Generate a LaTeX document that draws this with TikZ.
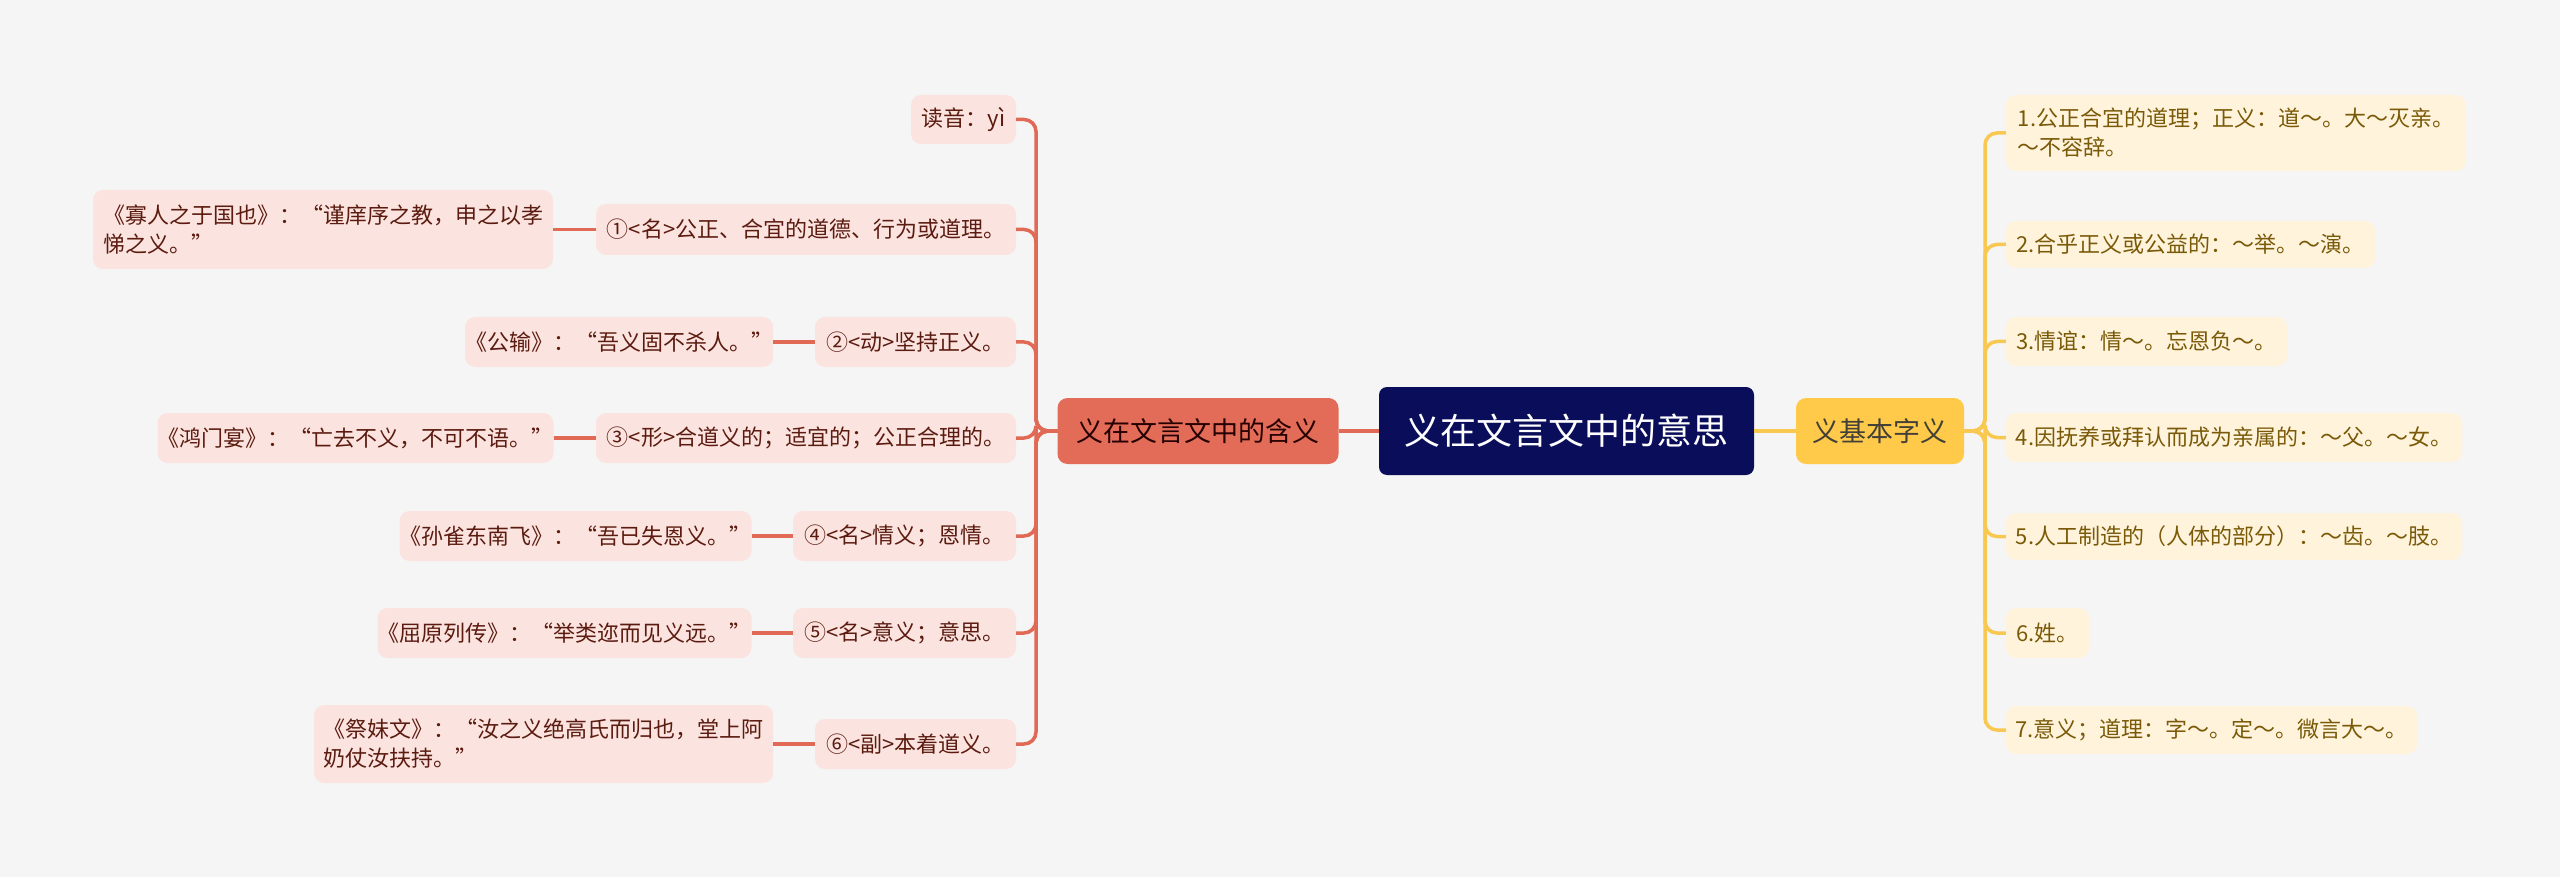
\documentclass[tikz,border=0pt]{standalone}
\usepackage{fontspec}
\newfontfamily\cjk{Noto Sans CJK SC}
\definecolor{bgc}{HTML}{F5F5F5}
\definecolor{navy}{HTML}{0A0E5A}
\definecolor{redm}{HTML}{E26C57}
\definecolor{yelm}{HTML}{FFC94A}
\definecolor{lfill}{HTML}{FBE4DF}
\definecolor{ltext}{HTML}{5C1B10}
\definecolor{rfill}{HTML}{FFF3DB}
\definecolor{rtext}{HTML}{7A5A08}
\definecolor{lline}{HTML}{E06A55}
\definecolor{rline}{HTML}{F8C850}
\tikzset{
  box/.style={inner sep=0pt, rounded corners=10pt, font=\cjk},
  lc/.style={box, fill=lfill, text=ltext, align=left, font=\cjk\fontsize{22}{29}\selectfont},
  rc/.style={box, fill=rfill, text=rtext, align=left, font=\cjk\fontsize{22}{29}\selectfont},
  lcon/.style={draw=lline, line width=3.5pt, rounded corners=12pt},
  rcon/.style={draw=rline, line width=3.5pt, rounded corners=12pt},
}
\begin{document}
\begin{tikzpicture}[x=1pt,y=-1pt]
\fill[bgc] (0,0) rectangle (2560,877);
\useasboundingbox (0,0) rectangle (2560,877);
% central
\node[box, fill=navy, text=white, rounded corners=8pt, minimum width=375pt, minimum height=88pt, font=\cjk\fontsize{36}{40}\selectfont] (root) at (1566.5,431) {义在文言文中的意思};
\node[box, fill=redm, text=black!85!red, minimum width=281pt, minimum height=66pt, font=\cjk\fontsize{27}{32}\selectfont] (red) at (1198,431) {义在文言文中的含义};
\node[box, fill=yelm, text=black!85!yellow, minimum width=168pt, minimum height=66pt, font=\cjk\fontsize{27}{32}\selectfont] (yel) at (1880,431) {义基本字义};
% left children
\node[lc, minimum width=105pt, minimum height=49pt] (l0) at (963.5,119.5) {读音：yì};
\node[lc, minimum width=420pt, minimum height=51pt] (l1) at (806,229.5) {①<名>公正、合宜的道德、行为或道理。};
\node[lc, minimum width=460pt, minimum height=79pt] (e1) at (323,229.5) {《寡人之于国也》：“谨庠序之教，申之以孝\\悌之义。”};
\node[lc, minimum width=201pt, minimum height=50pt] (l2) at (915.5,342) {②<动>坚持正义。};
\node[lc, minimum width=306pt, minimum height=50pt] (e2) at (619,342) {《公输》：“吾义固不杀人。”};
\node[lc, minimum width=420pt, minimum height=50pt] (l3) at (806,438) {③<形>合道义的；适宜的；公正合理的。};
\node[lc, minimum width=395pt, minimum height=50pt] (e3) at (355.5,438) {《鸿门宴》：“亡去不义，不可不语。”};
\node[lc, minimum width=223pt, minimum height=50pt] (l4) at (904.5,536) {④<名>情义；恩情。};
\node[lc, minimum width=351pt, minimum height=50pt] (e4) at (575.5,536) {《孙雀东南飞》：“吾已失恩义。”};
\node[lc, minimum width=223pt, minimum height=50pt] (l5) at (904.5,633) {⑤<名>意义；意思。};
\node[lc, minimum width=373pt, minimum height=50pt] (e5) at (564.5,633) {《屈原列传》：“举类迩而见义远。”};
\node[lc, minimum width=201pt, minimum height=50pt] (l6) at (915.5,744) {⑥<副>本着道义。};
\node[lc, minimum width=459pt, minimum height=78pt] (e6) at (543.5,744) {《祭妹文》：“汝之义绝高氏而归也，堂上阿\\奶仗汝扶持。”};
% right children
\node[rc, minimum width=460pt, minimum height=76pt] (r1) at (2236,133) {1.公正合宜的道理；正义：道～。大～灭亲。\\～不容辞。};
\node[rc, minimum width=369pt, minimum height=47pt] (r2) at (2190.5,244.5) {2.合乎正义或公益的：～举。～演。};
\node[rc, minimum width=281pt, minimum height=49pt] (r3) at (2146.5,341.5) {3.情谊：情～。忘恩负～。};
\node[rc, minimum width=456pt, minimum height=49pt] (r4) at (2234,437.5) {4.因抚养或拜认而成为亲属的：～父。～女。};
\node[rc, minimum width=456pt, minimum height=47pt] (r5) at (2234,536.5) {5.人工制造的（人体的部分）：～齿。～肢。};
\node[rc, minimum width=83pt, minimum height=50pt] (r6) at (2047.5,633) {6.姓。};
\node[rc, minimum width=411pt, minimum height=48pt] (r7) at (2211.5,730) {7.意义；道理：字～。定～。微言大～。};
% connectors
\draw[lline, line width=3.5pt] (root.west) -- (red.east);
\draw[rline, line width=3.5pt] (root.east) -- (yel.west);
\coordinate (lx) at (1036,431);
\coordinate (rx) at (1985,431);
\foreach \n in {l0,l1,l2,l3,l4,l5,l6}{
  \draw[lcon] (red.west) -- (lx) -- (lx |- \n.east) -- (\n.east);
}
\foreach \n in {r1,r2,r3,r4,r5,r6,r7}{
  \draw[rcon] (yel.east) -- (rx) -- (rx |- \n.west) -- (\n.west);
}
\draw[lline, line width=3.5pt] (l1.west) -- (e1.east);
\draw[lline, line width=3.5pt] (l2.west) -- (e2.east);
\draw[lline, line width=3.5pt] (l3.west) -- (e3.east);
\draw[lline, line width=3.5pt] (l4.west) -- (e4.east);
\draw[lline, line width=3.5pt] (l5.west) -- (e5.east);
\draw[lline, line width=3.5pt] (l6.west) -- (e6.east);
\end{tikzpicture}
\end{document}
